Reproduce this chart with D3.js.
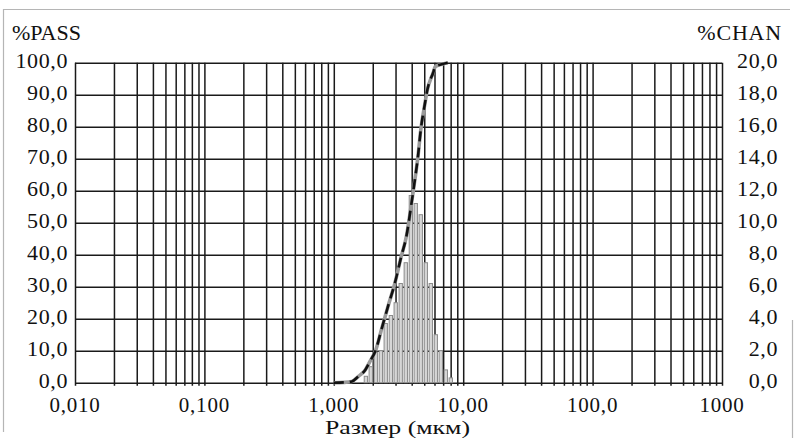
<!DOCTYPE html>
<html><head><meta charset="utf-8">
<script src="https://cdn.jsdelivr.net/npm/d3@7"></script>
<style>
html,body{margin:0;padding:0;background:#fff;}
svg{display:block;}
</style></head>
<body><svg id="c" width="794" height="438"></svg>
<script>
// ---- data ----
const xDecades = [0.01, 0.1, 1, 10, 100, 1000];
const xTickLabels = ["0,010", "0,100", "1,000", "10,00", "100,0", "1000"];
const passTicks = [0, 10, 20, 30, 40, 50, 60, 70, 80, 90, 100];
const chanTicks = [0, 2, 4, 6, 8, 10, 12, 14, 16, 18, 20];
// histogram channels (size in µm, %CHAN)
const barSizes = [1.77, 1.93, 2.11, 2.31, 2.52, 2.76, 3.01, 3.29, 3.60, 3.94, 4.30, 4.70, 5.14, 5.62, 6.14, 6.71, 7.34, 8.02];
const barChan  = [0.4, 1.0, 1.9, 2.0, 3.7, 4.2, 5.0, 6.2, 7.5, 11.7, 11.2, 10.5, 7.5, 6.2, 3.0, 2.0, 0.8, 0.3];
// cumulative curve (size in µm, %PASS)
const cumSizes = [1.00, 1.20, 1.38, 1.55, 1.75, 1.90, 2.10, 2.35, 2.63, 2.96, 3.30, 3.65, 3.95, 4.15, 4.48, 4.70, 5.05, 5.25, 5.85, 6.10, 6.80, 7.60];
const cumPass  = [0, 0.1, 0.4, 2.0, 4.0, 6.6, 10.0, 17.0, 24.0, 31.0, 39.0, 46.0, 55.0, 61.0, 71.0, 79.0, 87.0, 91.0, 96.8, 98.8, 99.5, 100];

// ---- layout ----
const svg = d3.select("#c");
const L = 75, R = 722, T = 62.7, B = 382.7;
const x = d3.scaleLog().domain([0.01, 1000]).range([L, R]);
const yP = d3.scaleLinear().domain([0, 100]).range([B, T]);
const yC = d3.scaleLinear().domain([0, 20]).range([B, T]);
const fmt = d => d.toFixed(1).replace(".", ",");
const FS = 22;

// outer frame (scan border)
svg.append("path").attr("d", "M3.5,432 V9.5 H790").attr("fill", "none").attr("stroke", "#b5b5b5").attr("stroke-width", 1.2);
svg.append("path").attr("d", "M792.5,320 V438").attr("fill", "none").attr("stroke", "#b5b5b5").attr("stroke-width", 1.2);

// minor + major vertical grid values
const xGrid = [];
xDecades.slice(0, -1).forEach(d => { for (let k = 1; k < 10; k++) xGrid.push(d * k); });
xGrid.push(1000);

const gridColor = "#1a1a1a";
const gx = svg.append("g").attr("transform", `translate(0,${B})`)
  .call(d3.axisBottom(x).tickValues(xGrid).tickSize(-(B - T)).tickSizeOuter(0).tickFormat(""));
gx.select(".domain").remove();
gx.selectAll(".tick line").attr("stroke", gridColor).attr("stroke-width", 1.5).attr("y1", 3);

const gy = svg.append("g").attr("transform", `translate(${L},0)`)
  .call(d3.axisLeft(yP).tickValues(passTicks).tickSize(-(R - L)).tickSizeOuter(0).tickFormat(""));
gy.select(".domain").remove();
gy.selectAll(".tick line").attr("stroke", gridColor).attr("stroke-width", 1.5);

// histogram bars
const k = 1.03;
svg.append("g").selectAll("rect").data(barSizes).join("rect")
  .attr("x", d => x(d / k))
  .attr("width", d => x(d * k) - x(d / k))
  .attr("y", (d, i) => yC(barChan[i]))
  .attr("height", (d, i) => B - yC(barChan[i]))
  .attr("fill", "#d6d6d6").attr("stroke", "#8c8c8c").attr("stroke-width", 1);

// cumulative curve
const line = d3.line().x((d, i) => x(cumSizes[i])).y((d, i) => yP(cumPass[i])).curve(d3.curveMonotoneX);
svg.append("path").datum(cumPass).attr("d", line).attr("fill", "none").attr("stroke", "#9a9a9a").attr("stroke-width", 3.6);
svg.append("path").datum(cumPass).attr("d", line).attr("fill", "none").attr("stroke", "#111").attr("stroke-width", 2.6).attr("stroke-dasharray", "10,6");

const txt = sel => sel.attr("font-size", FS).attr("fill", "#111").style("font-family", '"Liberation Serif"');
// left tick labels
svg.append("g").selectAll("text").data(passTicks).join("text")
  .attr("x", 68).attr("y", d => yP(d) + 5.5).attr("text-anchor", "end").call(txt).attr("letter-spacing", 0.6).text(fmt);
// right tick labels
svg.append("g").selectAll("text").data(chanTicks).join("text")
  .attr("x", 778).attr("y", d => yC(d) + 5.5).attr("text-anchor", "end").call(txt).attr("letter-spacing", 0.6).text(fmt);
// x labels
svg.append("g").selectAll("text").data(xDecades).join("text")
  .attr("x", d => x(d)).attr("y", 412).attr("text-anchor", "middle").call(txt).attr("font-size", 21).attr("letter-spacing", 0.8)
  .text((d, i) => xTickLabels[i]);

// titles
svg.append("text").attr("x", 12).attr("y", 40).call(txt).text("%PASS");
svg.append("text").attr("x", 782).attr("y", 40).attr("text-anchor", "end").call(txt).attr("letter-spacing", 0.8).text("%CHAN");
svg.append("text").attr("x", 325).attr("y", 434).call(txt).attr("font-size", 19.5)
  .attr("textLength", 145).attr("lengthAdjust", "spacingAndGlyphs").text("Размер (мкм)");
</script></body></html>
